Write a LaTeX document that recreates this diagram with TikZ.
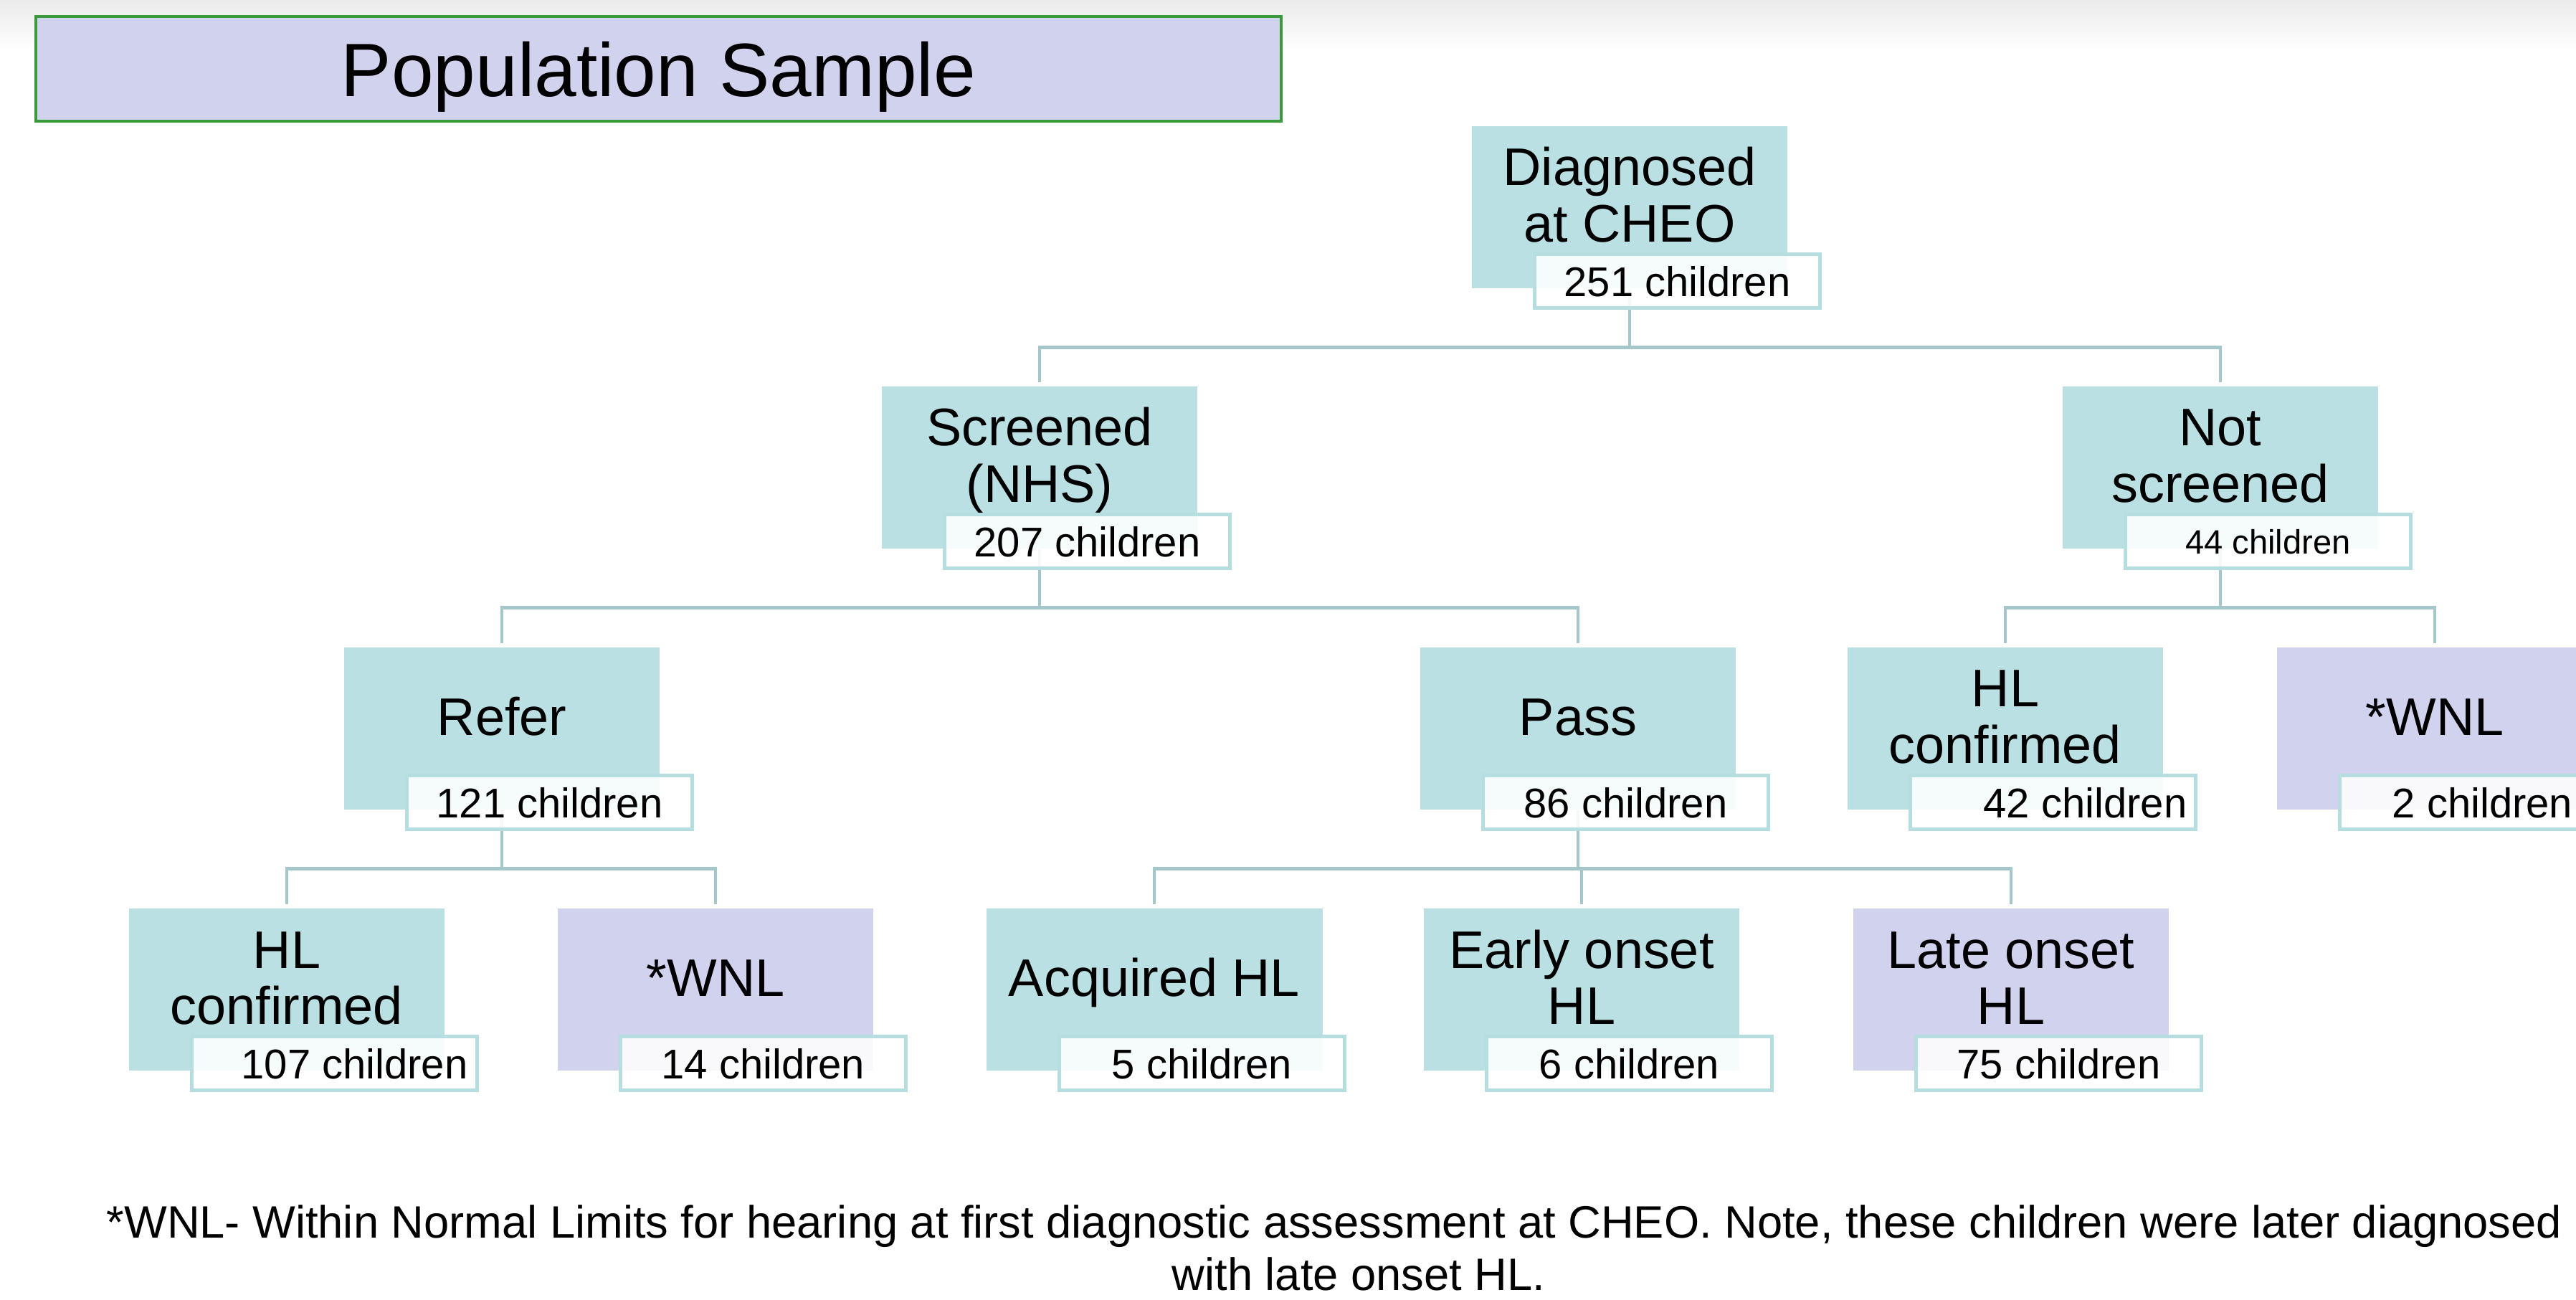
\documentclass[tikz,border=0pt]{standalone}
\usepackage{fontspec}
\setmainfont{Liberation Sans}

\definecolor{tealfill}{RGB}{187,224,227}
\definecolor{lavfill}{RGB}{209,210,238}
\definecolor{cntline}{RGB}{182,221,224}
\definecolor{connline}{RGB}{165,199,202}
\definecolor{titleline}{RGB}{58,154,58}

\begin{document}
\begin{tikzpicture}[
    tbox/.style={rectangle, fill=tealfill, minimum width=4.4cm, minimum height=2.26cm, inner sep=0pt, align=center, font=\fontsize{21}{22.2}\selectfont, text height=0.5cm, text depth=0.32cm},
    lbox/.style={tbox, fill=lavfill},
    two/.style={text height=1.28cm, text depth=0.32cm},
    cnt/.style={rectangle, draw=cntline, line width=1.4pt, fill=white, fill opacity=0.88, text opacity=1, minimum width=3.98cm, minimum height=0.75cm, inner sep=0pt, font=\fontsize{16.5}{18}\selectfont, text height=0.42cm, text depth=0cm},
    conn/.style={draw=connline, line width=1.4pt, shorten >=0.05cm},
    title/.style={rectangle, draw=titleline, line width=1.3pt, fill=lavfill, minimum width=17.37cm, minimum height=1.46cm, inner sep=0pt, font=\fontsize{30}{34}\selectfont, text height=0.76cm, text depth=0pt},
    note/.style={inner sep=0pt, font=\fontsize{18}{20.8}\selectfont}
]
    \useasboundingbox (0,0) rectangle (35.93,-18.12);
    \fill[white] (0,0) rectangle (35.93,-18.12);
    \shade[top color=gray!16, bottom color=white] (0,0) rectangle (35.93,-0.7);
    \clip (0,0) rectangle (35.93,-18.12);

    \node[title] (title) at (9.185,-0.96) {Population Sample};

    % level 1
    \node[tbox, two] (diag) at (22.73,-2.89) {Diagnosed\\at CHEO};
    % level 2
    \node[tbox, two] (scr)  at (14.50,-6.52) {Screened\\(NHS)};
    \node[tbox, two] (nots) at (30.97,-6.52) {Not\\screened};
    % level 3
    \node[tbox]      (refer) at (7.00,-10.16)  {Refer};
    \node[tbox]      (pass)  at (22.01,-10.16) {Pass};
    \node[tbox, two] (hlr)   at (27.97,-10.16) {HL\\confirmed};
    \node[lbox]      (wnlr)  at (33.96,-10.16) {*WNL};
    % level 4
    \node[tbox, two] (hll)   at (4.00,-13.80)  {HL\\confirmed};
    \node[lbox]      (wnll)  at (9.98,-13.80)  {*WNL};
    \node[tbox, minimum width=4.69cm] (acq) at (16.10,-13.80) {Acquired HL};
    \node[tbox, two] (early) at (22.06,-13.80) {Early onset\\HL};
    \node[lbox, two] (late)  at (28.05,-13.80) {Late onset\\HL};

    % connectors
    \draw[conn] (diag.south) -- ++(0,-0.82) -| (scr.north);
    \draw[conn] (diag.south) -- ++(0,-0.82) -| (nots.north);
    \draw[conn] (scr.south) -- ++(0,-0.82) -| (refer.north);
    \draw[conn] (scr.south) -- ++(0,-0.82) -| (pass.north);
    \draw[conn] (nots.south) -- ++(0,-0.82) -| (hlr.north);
    \draw[conn] (nots.south) -- ++(0,-0.82) -| (wnlr.north);
    \draw[conn] (refer.south) -- ++(0,-0.82) -| (hll.north);
    \draw[conn] (refer.south) -- ++(0,-0.82) -| (wnll.north);
    \draw[conn] (pass.south) -- ++(0,-0.82) -| (acq.north);
    \draw[conn] (pass.south) -- ++(0,-0.82) -| (early.north);
    \draw[conn] (pass.south) -- ++(0,-0.82) -| (late.north);

    % counts
    \node[cnt] (diagn)  at ([xshift=0.665cm,yshift=-1.03cm]diag.center)  {251 children};
    \node[cnt] (scrn)   at ([xshift=0.665cm,yshift=-1.03cm]scr.center)   {207 children};
    \node[cnt, font=\fontsize{13.4}{15}\selectfont, text height=0.34cm] (notsn) at ([xshift=0.665cm,yshift=-1.03cm]nots.center) {44 children};
    \node[cnt] (refern) at ([xshift=0.665cm,yshift=-1.03cm]refer.center) {121 children};
    \node[cnt] (passn)  at ([xshift=0.665cm,yshift=-1.03cm]pass.center)  {86 children};
    \node[cnt] (hlrn)   at ([xshift=0.665cm,yshift=-1.03cm]hlr.center)   {\hspace*{0.9cm}42 children};
    \node[cnt] (wnlrn)  at ([xshift=0.665cm,yshift=-1.03cm]wnlr.center)  {2 children};
    \node[cnt] (hlln)   at ([xshift=0.665cm,yshift=-1.03cm]hll.center)   {\hspace*{0.56cm}107 children};
    \node[cnt] (wnlln)  at ([xshift=0.665cm,yshift=-1.03cm]wnll.center)  {14 children};
    \node[cnt] (acqn)   at ([xshift=0.665cm,yshift=-1.03cm]acq.center)   {5 children};
    \node[cnt] (earlyn) at ([xshift=0.665cm,yshift=-1.03cm]early.center) {6 children};
    \node[cnt] (laten)  at ([xshift=0.665cm,yshift=-1.03cm]late.center)  {75 children};

    % footnote
    \node[note, anchor=base west] (note1) at (1.48,-17.26) {*WNL- Within Normal Limits for hearing at first diagnostic assessment at CHEO. Note, these children were later diagnosed};
    \node[note, anchor=base] (note2) at (18.95,-17.99) {with late onset HL.};
\end{tikzpicture}
\end{document}
